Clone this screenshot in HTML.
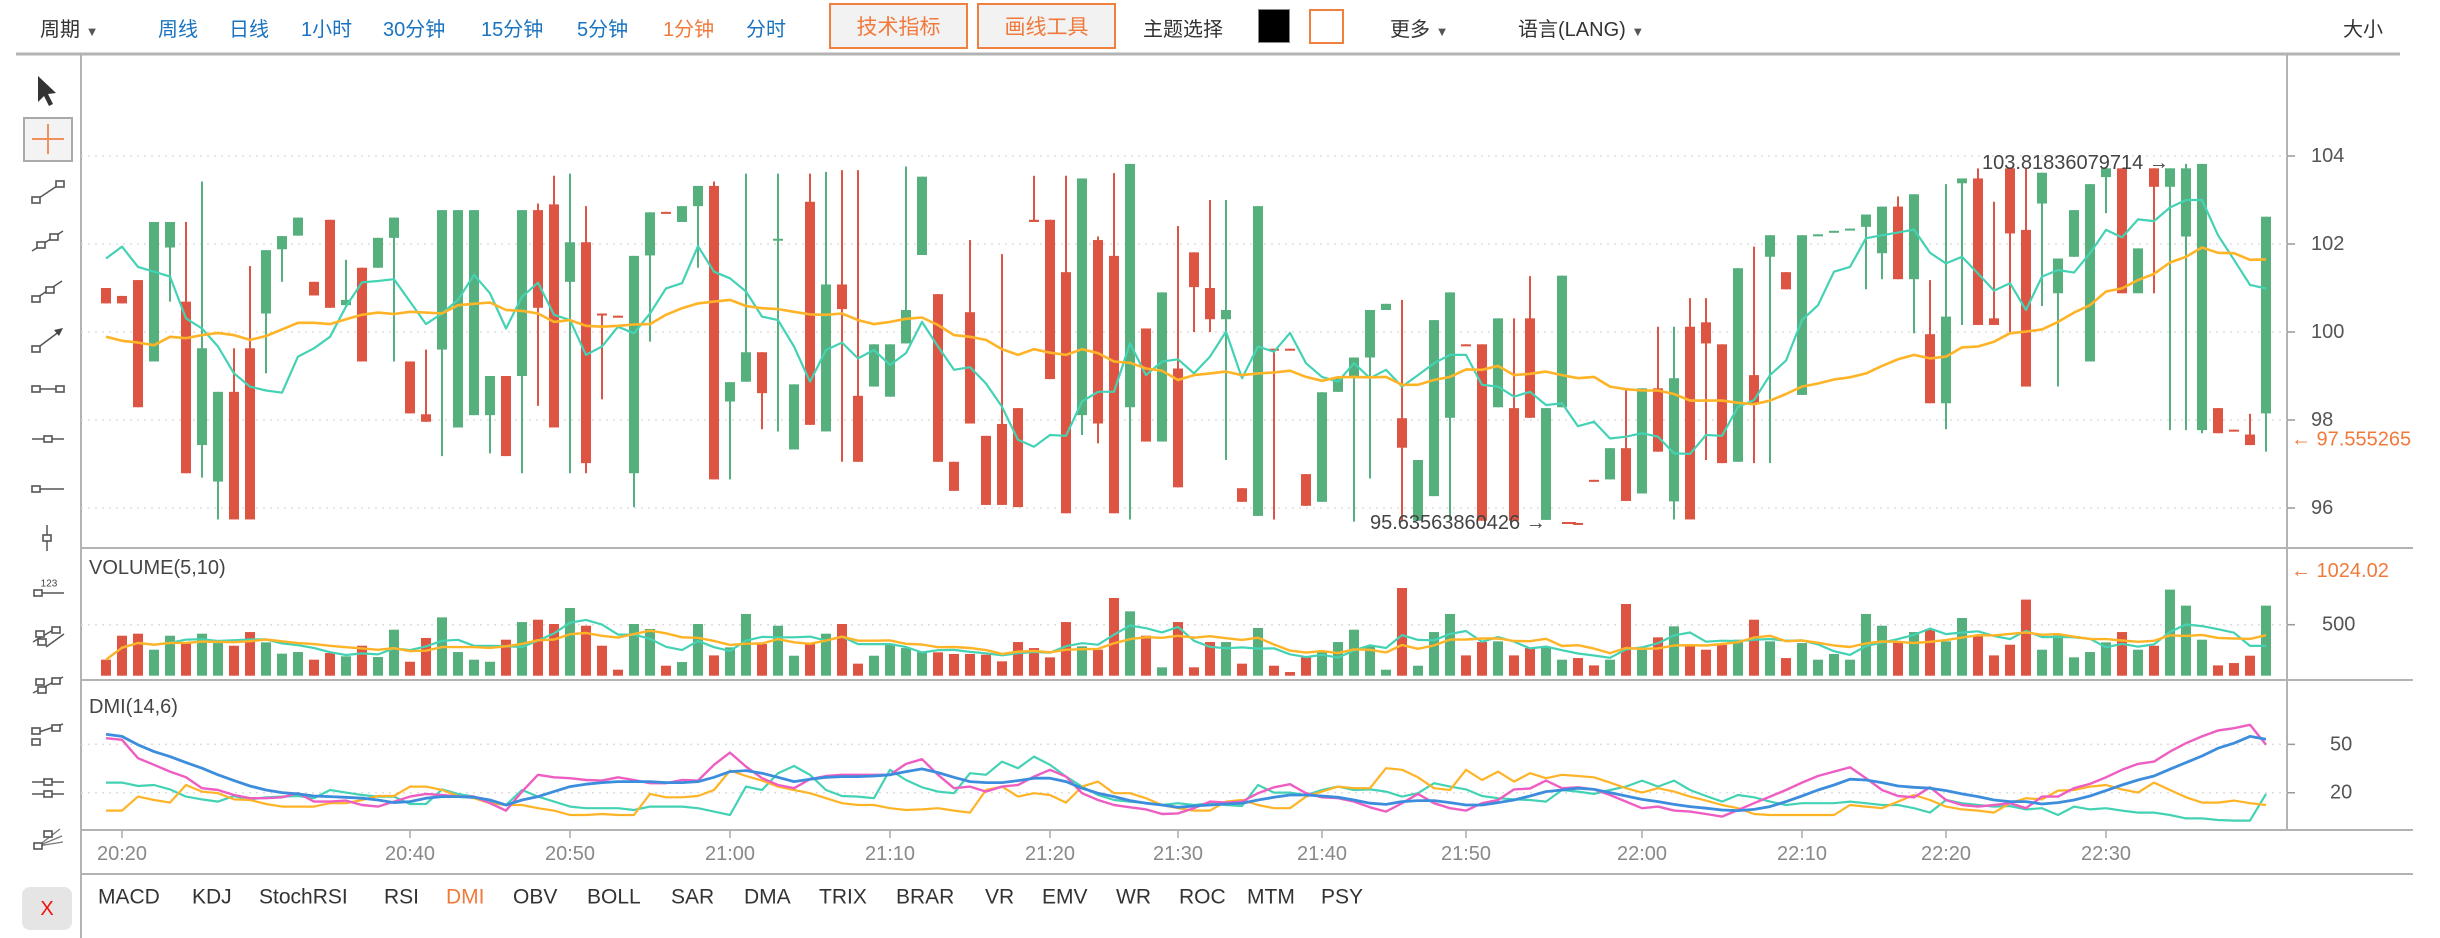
<!DOCTYPE html>
<html><head><meta charset="utf-8">
<style>
body{margin:0;background:#fff;width:2440px;height:938px;overflow:hidden;font-family:"Liberation Sans","Noto Sans CJK SC",sans-serif;}
#root{position:relative;width:2440px;height:938px;}
.tb{position:absolute;top:14px;font-size:20px;line-height:32px;white-space:nowrap;}
.blue{color:#1a73c0}.dark{color:#333}.org{color:#f07a3c}
.btn{position:absolute;top:3px;height:46px;border:2px solid #f08040;background:#f2f2f2;color:#f07a3c;font-size:21px;line-height:46px;text-align:center;box-sizing:border-box}
svg{position:absolute;left:0;top:0}
</style></head><body>
<div id="root">
<span class="tb dark" style="left:40px">周期 <span style="font-size:13px;color:#555">▼</span></span>
<span class="tb blue" style="left:158px">周线</span>
<span class="tb blue" style="left:229px">日线</span>
<span class="tb blue" style="left:301px">1小时</span>
<span class="tb blue" style="left:383px">30分钟</span>
<span class="tb blue" style="left:481px">15分钟</span>
<span class="tb blue" style="left:577px">5分钟</span>
<span class="tb org" style="left:663px">1分钟</span>
<span class="tb blue" style="left:746px">分时</span>
<div class="btn" style="left:829px;width:139px">技术指标</div>
<div class="btn" style="left:977px;width:139px">画线工具</div>
<span class="tb dark" style="left:1143px">主题选择</span>
<div style="position:absolute;left:1258px;top:9px;width:32px;height:34px;background:#000;border:1px solid #888;box-sizing:border-box"></div>
<div style="position:absolute;left:1309px;top:9px;width:35px;height:35px;background:#fff;border:2px solid #f08040;box-sizing:border-box"></div>
<span class="tb dark" style="left:1390px">更多 <span style="font-size:13px;color:#555">▼</span></span>
<span class="tb dark" style="left:1518px">语言(LANG) <span style="font-size:13px;color:#555">▼</span></span>
<span class="tb dark" style="left:2343px">大小</span>
<svg id="chart" width="2440" height="938"></svg>
</div>
<script>
const open=[101.0,100.82,101.18,99.33,101.92,100.69,97.43,96.6,98.64,99.63,100.42,101.88,102.19,101.14,102.55,100.61,101.46,101.46,102.14,99.33,98.13,99.6,97.83,98.11,98.11,99.0,99.0,102.77,102.9,101.14,102.04,100.42,100.37,96.79,101.74,102.73,102.5,102.86,103.32,98.42,98.87,99.54,102.08,97.33,102.96,97.74,101.08,98.55,98.76,98.53,99.74,101.75,100.86,97.05,100.45,97.64,97.91,98.27,102.55,102.55,101.36,98.11,102.09,101.73,98.29,100.08,97.51,99.17,101.81,101.0,100.29,96.45,95.82,99.62,99.62,96.77,96.14,98.64,98.98,99.42,100.5,98.04,95.71,96.27,98.05,99.72,99.72,98.29,98.27,100.31,95.73,98.29,95.66,96.64,96.65,97.36,96.33,98.72,96.15,100.12,100.22,99.72,97.05,99.02,101.71,101.36,98.57,102.18,102.26,102.31,102.39,101.79,102.85,101.2,99.95,98.38,103.38,103.49,100.31,103.72,102.32,102.92,100.88,101.71,99.33,103.52,103.72,100.88,103.72,103.3,102.17,97.77,98.27,97.78,97.67,98.15];
const close=[100.65,100.65,98.29,102.5,102.5,96.79,99.63,98.64,95.74,95.74,101.86,102.18,102.6,100.83,100.55,100.73,99.33,102.14,102.6,98.15,97.96,102.77,102.77,102.77,99.0,97.18,102.77,100.55,97.83,102.04,97.02,100.38,100.33,101.73,102.72,102.69,102.86,103.32,96.65,98.86,99.54,98.61,102.12,98.81,97.89,101.08,100.52,97.05,99.72,99.72,100.5,103.53,97.05,96.39,97.92,96.07,96.07,96.02,102.5,98.93,95.88,103.49,97.92,95.88,103.82,97.51,100.9,96.47,101.02,100.29,100.5,96.14,102.86,99.58,99.58,96.05,98.63,98.95,99.42,100.5,100.64,97.37,97.09,100.27,100.9,99.68,95.71,100.31,95.71,98.05,98.27,101.28,95.64,96.6,97.36,96.16,98.72,97.28,98.95,95.74,99.74,97.02,101.45,98.38,102.2,100.97,102.2,102.22,102.3,102.35,102.67,102.85,101.2,103.13,98.38,100.35,103.49,100.16,100.16,102.24,98.76,103.62,101.67,102.77,103.36,103.72,100.88,101.9,103.3,103.72,103.72,103.82,97.7,97.74,97.43,102.62];
const high=[101.0,100.82,101.18,102.5,102.5,102.5,103.42,98.64,99.63,101.5,101.86,102.18,102.6,101.14,102.55,101.64,101.46,102.14,102.6,99.33,99.6,102.77,102.77,102.77,99.0,99.0,102.77,102.92,103.55,103.6,102.86,100.42,100.37,101.73,102.72,102.73,102.86,103.32,103.42,98.86,103.6,99.54,103.6,98.81,103.6,103.64,103.68,103.68,99.72,99.72,103.76,103.53,100.86,97.05,102.09,97.64,101.77,98.27,103.55,102.55,103.55,103.49,102.17,103.61,103.82,100.08,100.9,102.41,101.81,103.0,103.0,96.45,102.86,99.62,99.62,96.77,98.63,98.95,99.42,100.5,100.64,100.73,97.09,100.27,100.9,99.72,99.72,100.31,100.31,101.27,98.27,101.28,95.66,96.64,97.36,98.7,98.72,100.12,100.12,100.77,100.77,99.72,101.45,101.94,102.2,101.36,102.2,102.22,102.3,102.35,102.67,102.85,103.08,103.13,101.18,103.36,103.49,103.72,102.96,103.72,103.72,103.62,101.67,102.77,103.36,103.72,103.72,101.9,103.72,103.72,103.82,103.82,98.27,97.78,98.14,102.62];
const low=[100.65,100.65,98.29,99.33,100.69,96.79,96.69,95.74,95.74,95.74,99.06,101.14,102.19,100.83,100.55,100.61,99.33,101.46,99.33,98.15,97.96,97.18,97.83,98.11,97.24,97.18,96.79,98.32,97.83,96.79,96.79,98.47,100.33,96.02,99.78,102.69,102.5,101.46,96.65,96.65,98.87,97.79,97.74,97.33,97.89,97.74,97.05,97.05,98.76,98.53,99.74,101.75,97.05,96.39,97.92,96.07,96.07,96.02,102.5,98.93,95.88,97.66,97.47,95.88,95.74,97.51,97.51,96.47,100.0,100.0,97.09,96.14,95.82,95.74,99.58,96.05,96.14,98.64,95.69,96.67,100.5,95.69,95.71,96.27,95.73,99.68,95.71,98.29,95.71,98.05,95.73,98.29,95.64,96.6,96.65,96.16,96.33,97.28,95.74,95.74,97.09,97.02,97.05,97.02,97.02,100.97,98.57,102.18,102.26,102.31,100.97,101.2,101.2,99.97,98.38,97.79,100.16,100.16,100.16,100.0,98.76,100.59,98.76,101.71,99.33,102.7,100.88,100.88,100.88,97.77,97.77,97.7,97.7,97.74,97.43,97.28];
const ma5=[101.67,101.94,101.48,101.37,101.26,100.31,100.08,99.67,99.06,98.76,98.67,98.62,99.44,99.63,99.89,100.58,101.13,101.16,101.2,100.69,100.18,100.42,100.73,101.3,100.88,100.08,100.8,101.12,100.39,100.27,99.48,99.67,100.12,99.97,100.42,100.99,101.11,101.95,101.37,101.22,100.92,100.35,100.27,99.67,98.87,99.59,99.76,99.4,99.59,99.25,99.52,100.23,99.67,99.14,99.2,98.83,98.3,97.55,97.39,97.66,97.64,98.42,98.64,98.64,99.74,99.02,99.33,99.38,99.06,99.44,100.01,98.95,99.67,99.55,99.98,99.29,98.98,98.87,99.29,98.95,99.14,98.76,99.02,99.29,99.48,99.48,98.8,98.76,98.53,98.64,98.34,98.38,97.86,97.96,97.58,97.62,97.7,97.62,97.24,97.23,97.66,97.64,98.3,98.45,99.02,99.35,100.27,100.61,101.37,101.48,102.13,102.2,102.26,102.33,101.8,101.56,101.71,101.33,100.94,101.11,100.5,101.26,101.41,101.35,101.79,102.32,102.15,102.56,102.52,102.83,103.0,103.0,102.2,101.64,101.07,100.99];
const ma20=[99.89,99.8,99.76,99.7,99.89,99.86,99.93,99.98,99.93,99.82,99.91,100.06,100.21,100.21,100.18,100.29,100.39,100.44,100.41,100.46,100.44,100.42,100.61,100.64,100.67,100.5,100.48,100.42,100.23,100.27,100.14,100.12,100.14,100.17,100.18,100.39,100.54,100.65,100.69,100.73,100.59,100.54,100.52,100.46,100.4,100.39,100.42,100.27,100.18,100.23,100.3,100.33,100.16,99.93,99.89,99.82,99.61,99.48,99.61,99.53,99.48,99.61,99.52,99.33,99.3,99.17,99.12,98.91,99.02,99.06,99.1,99.02,99.06,99.08,99.12,98.98,98.89,98.97,98.98,98.97,98.98,98.8,98.8,98.91,98.98,99.15,99.14,99.23,99.02,99.05,99.1,99.02,98.95,98.98,98.76,98.7,98.67,98.67,98.59,98.44,98.44,98.44,98.39,98.36,98.44,98.59,98.76,98.83,98.92,98.97,99.06,99.23,99.38,99.48,99.4,99.44,99.65,99.67,99.78,99.97,100.01,100.06,100.23,100.44,100.61,100.92,100.99,101.18,101.32,101.58,101.71,101.92,101.8,101.79,101.64,101.65];
const volume=[157,392,412,255,392,320,412,320,294,428,327,216,232,157,222,190,294,183,451,137,370,572,232,157,137,353,526,549,507,664,490,294,59,507,458,98,134,507,199,278,605,311,490,196,314,412,507,118,196,314,271,239,229,213,213,206,141,330,271,180,526,288,255,762,631,392,82,526,82,330,330,118,468,98,36,190,232,330,451,288,59,860,98,428,605,199,330,337,199,271,288,157,173,101,157,703,255,376,484,298,255,304,353,549,337,173,320,157,213,157,605,490,327,428,458,337,566,386,199,304,746,255,396,180,232,327,428,255,294,844,687,353,101,124,196,687];
const adx=[56.3,54.9,49.7,45.5,42.4,38.7,35.2,31.1,27.5,24.2,21.7,20.1,19.3,18.0,17.6,17.2,16.6,15.5,13.9,14.5,16.6,17.6,17.6,17.2,15.5,12.4,15.5,17.6,20.7,23.8,25.3,26.3,26.9,26.9,26.9,26.3,26.3,26.9,29.6,33.1,33.7,32.1,29.6,26.9,28.4,29.6,30.0,30.0,30.4,31.1,33.1,34.8,32.5,29.6,26.9,26.3,26.3,27.5,29.0,29.0,26.9,22.8,19.7,17.6,15.1,13.5,12.4,11.0,11.8,12.4,13.0,13.5,15.5,17.2,18.6,18.6,18.0,17.2,15.5,13.5,12.8,14.5,15.1,15.1,13.9,12.4,12.4,13.9,15.5,18.0,20.7,21.7,22.8,22.1,20.1,18.0,15.9,14.5,12.8,11.4,10.4,9.3,8.9,9.7,11.4,14.5,18.0,21.7,24.8,28.4,27.9,26.3,24.2,23.4,22.8,21.3,19.3,17.6,15.5,14.5,14.5,13.0,13.9,15.5,18.0,21.3,24.8,27.9,30.4,34.6,38.7,42.8,47.6,50.7,54.9,53.2];
const pdi=[53.8,52.8,41.4,37.3,33.1,29.6,22.8,21.7,18.6,16.6,16.6,17.2,19.7,14.5,14.5,15.1,12.4,11.4,14.5,17.6,19.3,18.6,17.6,17.6,13.5,8.9,20.7,31.1,29.6,29.0,27.9,27.5,29.6,27.9,25.9,25.9,27.9,27.5,37.3,44.9,36.2,29.0,24.8,22.8,28.4,30.4,31.1,31.1,31.1,31.1,37.9,40.8,31.1,22.8,23.8,20.7,23.8,24.8,30.0,34.2,30.0,19.7,15.5,12.4,11.0,9.7,6.8,7.2,10.4,14.5,13.9,14.5,19.7,23.4,25.3,19.7,17.2,16.6,14.5,11.0,8.3,13.5,19.3,13.5,10.4,8.9,13.5,15.5,22.1,22.6,27.5,22.8,23.4,22.1,18.6,14.5,10.4,11.4,8.9,8.3,6.8,5.2,9.3,13.5,17.6,21.7,26.3,30.4,33.1,35.8,29.0,21.7,18.0,17.2,23.4,15.5,12.4,11.4,12.4,13.5,10.4,17.6,17.6,22.8,25.5,29.6,34.2,37.9,39.3,45.5,50.7,54.9,58.6,60.0,62.1,49.7];
const mdi=[26.3,26.3,24.2,24.8,22.1,17.6,15.9,14.5,18.0,15.9,17.2,17.6,18.0,16.6,21.7,20.1,18.6,17.6,17.6,13.0,13.0,22.1,19.3,17.6,14.5,12.4,21.7,17.6,14.5,11.4,10.4,10.4,10.4,9.3,11.4,11.4,11.4,10.4,8.3,6.2,23.8,21.7,32.1,36.6,31.1,21.7,18.0,17.6,16.6,34.2,27.9,23.4,20.7,19.7,32.1,31.1,39.3,35.2,42.4,37.3,30.0,23.8,18.6,15.5,14.5,13.5,12.4,13.5,12.4,13.5,12.4,11.8,24.8,20.1,20.1,18.6,21.7,23.8,21.7,22.1,20.7,17.6,19.7,25.9,23.8,22.1,18.0,16.6,15.9,15.5,14.5,21.7,20.7,19.3,21.7,23.8,27.5,23.8,27.5,21.7,18.0,14.5,18.6,17.2,14.5,12.4,13.5,13.5,13.5,14.5,13.5,12.4,12.4,10.4,7.7,15.5,13.5,12.4,11.4,11.8,9.7,10.4,6.2,11.4,9.7,10.4,8.9,7.7,7.7,6.2,4.1,4.1,3.1,2.7,2.7,19.3];
const adxr=[8.9,8.9,17.6,15.5,13.9,24.8,20.7,19.7,15.9,15.5,13.0,11.4,11.4,11.4,13.5,13.5,15.5,18.0,18.0,23.8,23.8,21.7,18.0,16.6,13.5,12.4,12.4,10.4,8.9,6.2,6.2,6.8,6.2,6.2,19.3,17.2,17.2,18.0,21.7,33.7,30.4,27.5,23.8,21.7,19.7,16.6,13.5,12.4,12.4,10.4,9.3,9.7,10.4,8.9,7.7,21.7,23.8,17.6,19.7,18.6,13.9,23.8,26.9,19.7,19.7,16.6,12.4,10.4,8.9,8.9,14.5,15.5,12.4,10.4,10.4,17.6,20.7,23.8,22.8,22.8,35.2,34.2,29.6,22.8,21.7,34.2,27.9,33.1,26.9,32.1,29.0,31.1,30.4,29.6,26.3,22.8,20.1,22.8,20.7,17.6,15.1,12.4,10.4,6.8,6.2,6.2,6.2,6.2,6.2,12.4,11.4,10.4,14.5,18.6,15.5,11.4,9.7,8.9,7.7,13.5,16.6,15.9,21.3,21.7,23.8,24.8,22.1,20.1,26.3,21.7,17.2,13.9,13.9,15.1,13.5,12.4];
const timeLabels=["20:20","20:40","20:50","21:00","21:10","21:20","21:30","21:40","21:50","22:00","22:10","22:20","22:30"];
const timeIndex=[1,19,29,39,49,59,67,76,85,96,106,115,125];
const priceTicks=[104,102,100,98,96];
const volTicks=[500];
const dmiTicks=[50,20];
const lastPrice=97.555265, lastVolume=1024.02, maxPrice=103.81836079714, minPrice=95.63563860426;
const maxIdx=130, minIdx=92;

const NS="http://www.w3.org/2000/svg";
const svg=document.getElementById('chart');
const UP="#56b07e", DN="#de5442";
const X0=106, DX=16, RIGHT=2287, LEFT=81;
const xAt=i=>X0+DX*i;
const yP=p=>156+(104-p)*44;
const yV=v=>675.7-v*0.102;
const yD=v=>825-v*1.613;
function el(tag,attrs,parent){const e=document.createElementNS(NS,tag);for(const k in attrs)e.setAttribute(k,attrs[k]);(parent||svg).appendChild(e);return e;}
function txt(s,x,y,attrs){const t=el('text',Object.assign({x:x,y:y,'font-size':20,'font-family':'Liberation Sans, sans-serif','dominant-baseline':'central',fill:'#555'},attrs||{}));t.textContent=s;return t;}

// frame lines
let ln;
ln=el('line',{x1:16,y1:54,x2:2400,y2:54,stroke:'#b3b3b3','stroke-width':3});


ln=el('line',{x1:LEFT,y1:55,x2:LEFT,y2:938,stroke:'#b3b3b3','stroke-width':2});


ln=el('line',{x1:RIGHT,y1:55,x2:RIGHT,y2:830,stroke:'#b3b3b3','stroke-width':2});


[548,680,830].forEach(y=>{const l=el('line',{x1:LEFT,y1:y,x2:2413,y2:y,stroke:'#b3b3b3','stroke-width':2});

});
ln=el('line',{x1:LEFT,y1:874,x2:2413,y2:874,stroke:'#b3b3b3','stroke-width':2});



// grids + ticks
priceTicks.forEach(p=>{const g=el('line',{x1:LEFT,y1:yP(p),x2:RIGHT,y2:yP(p),stroke:'#ddd','stroke-dasharray':'2,5','stroke-width':1.5});


const tk=el('line',{x1:RIGHT,y1:yP(p),x2:RIGHT+8,y2:yP(p),stroke:'#999','stroke-width':1.5});


const t=txt(String(p),2311,yP(p));

});
volTicks.forEach(v=>{const g=el('line',{x1:LEFT,y1:yV(v),x2:RIGHT,y2:yV(v),stroke:'#ddd','stroke-dasharray':'2,5','stroke-width':1.5});


const tk=el('line',{x1:RIGHT,y1:yV(v),x2:RIGHT+8,y2:yV(v),stroke:'#999','stroke-width':1.5});


const t=txt(String(v),2322,yV(v));

});
dmiTicks.forEach(v=>{const g=el('line',{x1:LEFT,y1:yD(v),x2:RIGHT,y2:yD(v),stroke:'#ddd','stroke-dasharray':'2,5','stroke-width':1.5});


const tk=el('line',{x1:RIGHT,y1:yD(v),x2:RIGHT+8,y2:yD(v),stroke:'#999','stroke-width':1.5});


const t=txt(String(v),2330,yD(v));

});

// candles
for(let i=0;i<open.length;i++){
  const x=xAt(i), up=close[i]>=open[i], c=up?UP:DN;
  const w=el('line',{x1:x,y1:yP(high[i]),x2:x,y2:yP(low[i]),stroke:c,'stroke-width':2});
  
  
  const t=yP(Math.max(open[i],close[i])), b=yP(Math.min(open[i],close[i]));
  const r=el('rect',{x:x-5,y:t,width:10,height:Math.max(2,b-t),fill:c});
  
  
}
function poly(arr,yf,color,w,name){const pts=arr.map((v,i)=>xAt(i)+','+yf(v).toFixed(1)).join(' ');
  const p=el('polyline',{points:pts,fill:'none',stroke:color,'stroke-width':w,'stroke-linejoin':'round'});
  
  }
poly(ma5,yP,'#44d2b4',2.2,'price-ma-short-line');
poly(ma20,yP,'#ffb326',2.6,'price-ma-long-line');

// labels
let tl=txt('103.81836079714 →',1982,163,{fill:'#444'});


tl=txt('95.63563860426 →',1370,523,{fill:'#444'});


ln=el('line',{x1:1562,y1:523,x2:1576,y2:523,stroke:DN,'stroke-width':2});


tl=txt('← '+lastPrice,2291,yP(lastPrice),{fill:'#f07a3c'});


tl=txt('← '+lastVolume,2291,yV(lastVolume),{fill:'#f07a3c'});


tl=txt('VOLUME(5,10)',89,568,{fill:'#444'});


tl=txt('DMI(14,6)',89,707,{fill:'#444'});



// volume
for(let i=0;i<volume.length;i++){
  const up=close[i]>=open[i];
  const r=el('rect',{x:xAt(i)-5,y:yV(volume[i]),width:10,height:yV(0)-yV(volume[i]),fill:up?UP:DN});
  
  
}
function rollAvg(a,n){return a.map((v,i)=>{const s=a.slice(Math.max(0,i-n+1),i+1);return s.reduce((x,y)=>x+y,0)/s.length;});}
poly(rollAvg(volume,5),yV,'#44d2b4',2.2,'volume-ma5-line');
poly(rollAvg(volume,10),yV,'#ffb326',2.4,'volume-ma10-line');

// DMI
poly(mdi,yD,'#44d2b4',2.2,'dmi-mdi-line');
poly(adxr,yD,'#ffb326',2.2,'dmi-adxr-line');
poly(pdi,yD,'#ee5ec2',2.4,'dmi-pdi-line');
poly(adx,yD,'#3d8ddd',2.8,'dmi-adx-line');

// time axis
timeLabels.forEach((s,k)=>{const x=xAt(timeIndex[k]);
  const tk=el('line',{x1:x,y1:831,x2:x,y2:838,stroke:'#aaa','stroke-width':1.5});
  
  
  const t=txt(s,x,854,{'text-anchor':'middle',fill:'#888'});
  
  });

// indicator tabs
const inds=["MACD","KDJ","StochRSI","RSI","DMI","OBV","BOLL","SAR","DMA","TRIX","BRAR","VR","EMV","WR","ROC","MTM","PSY"];
const indX=[98,192,259,384,446,513,587,671,744,819,896,985,1042,1116,1179,1247,1321];
inds.forEach((s,k)=>{const t=txt(s,indX[k],897,{fill:s==='DMI'?'#f07a3c':'#333','font-size':21});
  
  });

// left drawing toolbar
const G='#555';
let g=el('path',{d:'M38,76 L38,102 L44,96 L49,106 L53,104 L48,94 L56,93 Z',fill:'#333'});


g=el('rect',{x:24,y:118,width:48,height:43,fill:'#f3f3f3',stroke:'#aaa','stroke-width':2});


el('path',{d:'M32,139 H64 M48,124 V154',stroke:'#f0905a','stroke-width':2});
function sq(x,y){el('rect',{x:x-4,y:y-3,width:8,height:6,fill:'#fff',stroke:G,'stroke-width':1.6});}
function tool(name,y,fn){const gg=el('g',{});fn(y);}
tool('segment-tool',192,y=>{el('line',{x1:36,y1:y+8,x2:60,y2:y-8,stroke:G,'stroke-width':1.5});sq(36,y+8);sq(60,y-8);});
tool('ray-tool',241,y=>{el('line',{x1:32,y1:y+10,x2:63,y2:y-10,stroke:G,'stroke-width':1.5});sq(41,y+4);sq(54,y-4);});
tool('line-tool',291,y=>{el('line',{x1:35,y1:y+8,x2:62,y2:y-10,stroke:G,'stroke-width':1.5});sq(36,y+8);sq(50,y-1);});
tool('arrow-tool',339,y=>{el('line',{x1:36,y1:y+10,x2:60,y2:y-8,stroke:G,'stroke-width':1.5});el('path',{d:`M63,${y-11} L54,${y-9} L59,${y-3}Z`,fill:'#444'});sq(36,y+10);});
tool('horizontal-segment-tool',389,y=>{el('line',{x1:36,y1:y,x2:60,y2:y,stroke:G,'stroke-width':1.5});sq(36,y);sq(60,y);});
tool('horizontal-line-tool',439,y=>{el('line',{x1:32,y1:y,x2:64,y2:y,stroke:G,'stroke-width':1.5});sq(48,y);});
tool('horizontal-ray-tool',489,y=>{el('line',{x1:36,y1:y,x2:64,y2:y,stroke:G,'stroke-width':1.5});sq(36,y);});
tool('vertical-line-tool',538,y=>{el('line',{x1:47,y1:y-13,x2:47,y2:y+13,stroke:G,'stroke-width':1.5});sq(47,y);});
tool('price-line-tool',588,y=>{el('line',{x1:36,y1:y+5,x2:64,y2:y+5,stroke:G,'stroke-width':1.5});sq(38,y+5);const t=txt('123',49,y-4,{'font-size':10,fill:'#444','text-anchor':'middle'});});
tool('parallel-channel-tool',638,y=>{el('line',{x1:33,y1:y+4,x2:53,y2:y-8,stroke:G,'stroke-width':1.5});el('line',{x1:46,y1:y+9,x2:64,y2:y-4,stroke:G,'stroke-width':1.5});sq(40,y-4);sq(42,y+4);sq(56,y-8);});
tool('parallel-lines-tool',686,y=>{el('line',{x1:33,y1:y+7,x2:63,y2:y-9,stroke:G,'stroke-width':1.5});sq(40,y-4);sq(42,y+4);sq(56,y-5);});
tool('price-channel-tool',736,y=>{el('line',{x1:33,y1:y-2,x2:63,y2:y-12,stroke:G,'stroke-width':1.5});sq(36,y-5);sq(36,y+6);sq(56,y-8);});
tool('fibonacci-tool',788,y=>{el('line',{x1:32,y1:y-6,x2:64,y2:y-6,stroke:G,'stroke-width':1.5});el('line',{x1:32,y1:y+6,x2:64,y2:y+6,stroke:G,'stroke-width':1.5});sq(48,y-6);sq(48,y+6);});
tool('fan-tool',836,y=>{el('path',{d:`M38,${y+10} L62,${y} M38,${y+10} L63,${y+6} M38,${y+10} L60,${y-7}`,stroke:'#777','stroke-width':1.3,fill:'none'});sq(38,y+10);sq(48,y-2);});
g=el('rect',{x:22,y:887,width:50,height:43,rx:8,fill:'#e5e5e5'});


tl=txt('X',47,909,{fill:'#ee1111','text-anchor':'middle','font-size':20});


</script>
</body></html>
